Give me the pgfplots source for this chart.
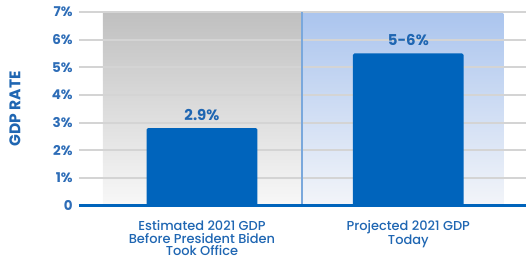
\documentclass[border=0pt]{standalone}
\usepackage{pgfplots}
\pgfplotsset{compat=1.18}
\usepackage{fontspec}
\setmainfont{Poppins}
\IfFontExistsTF{Poppins Medium}{\newfontfamily\medfont{Poppins Medium}}{\newfontfamily\medfont{Poppins}}
\definecolor{barblue}{HTML}{0064BC}
\definecolor{tickblue}{HTML}{2E6DB7}
\definecolor{labblue}{HTML}{1F66B2}
\definecolor{gridgray}{HTML}{D4D4D4}
\definecolor{graytop}{HTML}{C0C0C0}
\definecolor{graybot}{HTML}{F8F8F8}
\definecolor{bluetop}{HTML}{ABC5EE}
\definecolor{bluebot}{HTML}{F3F5F9}
\definecolor{divider}{HTML}{7AA8DC}
\begin{document}
\begin{tikzpicture}
\begin{axis}[
  at={(79bp,56bp)}, anchor=south west,
  scale only axis, width=448bp, height=194bp,
  xmin=-0.597, xmax=1.568, ymin=0, ymax=7,
  set layers=standard,
  axis line style={draw=none},
  major tick length=0,
  ytick={0,1,2,3,4,5,6,7},
  yticklabels={0,1\%,2\%,3\%,4\%,5\%,6\%,7\%},
  ymajorgrids, grid style={gridgray, line width=2bp},
  xtick={0,1},
  xticklabels={Estimated 2021 GDP\\Before President Biden\\Took Office, Projected 2021 GDP\\Today},
  xticklabel style={align=center, font=\medfont\fontsize{13bp}{13bp}\selectfont, text=labblue, anchor=north, inner sep=0pt, yshift=-14.5bp},
  yticklabel style={font=\bfseries\fontsize{13.5bp}{15bp}\selectfont, text=tickblue, anchor=east, inner sep=0pt, xshift=-6bp},
  ylabel={GDP RATE},
  ylabel style={at={(axis description cs:-0.1429,0.5)}, anchor=center, font=\bfseries\fontsize{15.5bp}{17bp}\selectfont, text=labblue},
  clip=false,
]
\begin{pgfonlayer}{axis background}
\shade[top color=graytop, bottom color=graybot] (axis cs:-0.48,0) rectangle (axis cs:0.486,6.96);
\shade[top color=bluetop, bottom color=bluebot] (axis cs:0.486,0) rectangle (axis cs:1.461,6.96);
\end{pgfonlayer}
\draw[divider, line width=2bp] (axis cs:0.486,0) -- (axis cs:0.486,7);
\addplot[ybar, bar width=111bp, fill=barblue, draw=none, rounded corners=1.5bp,
  nodes near coords, point meta=explicit symbolic,
  nodes near coords style={anchor=base, yshift=7.5bp, font=\bfseries\fontsize{15bp}{17bp}\selectfont, text=labblue}]
  coordinates {(0,2.8) [2.9\%] (1,5.5) [5-6\%]};
\draw[barblue, line width=3bp] (axis cs:-0.597,0) -- (axis cs:1.568,0);
\end{axis}
\path (0,0) rectangle (527bp,262bp);
\end{tikzpicture}
\end{document}
